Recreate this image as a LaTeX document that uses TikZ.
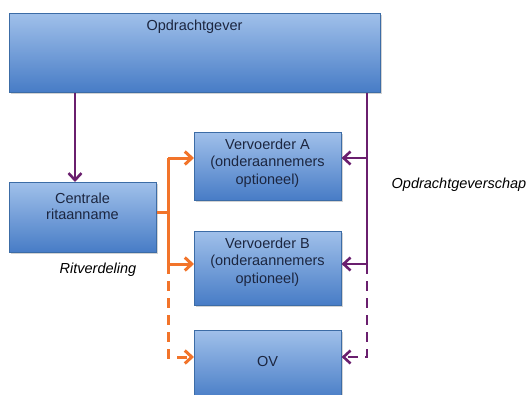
\documentclass[tikz,border=0pt]{standalone}
\usepackage{fontspec}
\setmainfont{Liberation Sans}
\usetikzlibrary{arrows.meta,shadows}
\definecolor{purp}{HTML}{6A1F6E}
\definecolor{orng}{HTML}{F2742A}
\definecolor{boxtop}{HTML}{A0C0EA}
\definecolor{boxbot}{HTML}{477CC6}
\definecolor{boxline}{HTML}{3C6CA6}
\definecolor{txt}{HTML}{1C2640}
\tikzset{
  bluebox/.style={draw=boxline, line width=0.6pt, top color=boxtop, bottom color=boxbot,
    drop shadow={opacity=0.35, shadow xshift=1.5pt, shadow yshift=-1.5pt},
    anchor=north west, inner sep=0pt, text=txt, align=center,
    font=\fontsize{14.5}{17.5}\selectfont},
  plink/.style={draw=purp, line width=2.6pt},
  olink/.style={draw=orng, line width=3pt},
  tip/.style={-{Straight Barb[length=7pt,width=13pt]}},
  dashline/.style={dash pattern=on 10pt off 7pt},
  lab/.style={font=\fontsize{14.5}{17.5}\selectfont\itshape}
}
\begin{document}
\begin{tikzpicture}[x=1pt,y=-1pt]
\useasboundingbox (0,0) rectangle (528,394);
% boxes
\node[bluebox, minimum width=371, minimum height=79] (og) at (9,13) {};
\node[text=txt, font=\fontsize{14.5}{17.5}\selectfont] (ogtext) at (194.5,27) {Opdrachtgever};
\node[bluebox, minimum width=147, minimum height=70] (cr) at (9,182) {};
\node[text=txt, align=center, font=\fontsize{14.5}{16}\selectfont] (crtext) at (82.5,206) {Centrale\\ritaanname};
\node[bluebox, minimum width=147, minimum height=68] (va) at (194,132) {};
\node[text=txt, align=center, font=\fontsize{14.5}{17.5}\selectfont] (vatext) at (267.5,163) {Vervoerder A\\(onderaannemers\\optioneel)};
\node[bluebox, minimum width=147, minimum height=74] (vb) at (194,231) {};
\node[text=txt, align=center, font=\fontsize{14.5}{17.5}\selectfont] (vbtext) at (267.5,262) {Vervoerder B\\(onderaannemers\\optioneel)};
\node[bluebox, minimum width=147, minimum height=70] (ov) at (194,330) {};
\node[text=txt, font=\fontsize{14.5}{17.5}\selectfont] (ovtext) at (267.5,362) {OV};
% labels
\node[lab] (l1) at (459,185) {Opdrachtgeverschap};
\node[lab] (l2) at (98,270) {Ritverdeling};
% coordinates
\coordinate (pl) at (75,0);
\coordinate (pb) at (367,0);
\coordinate (ob) at (168,0);
\coordinate (ya) at (0,158);
\coordinate (yb) at (0,264);
\coordinate (yo) at (0,357);
\coordinate (yc) at (0,212);
% purple
\draw[plink, tip] (og.south -| pl) -- (cr.north -| pl);
\draw[plink] (og.south -| pb) -- (pb |- yb);
\draw[plink, tip] (pb |- ya) -- (va.east |- ya);
\draw[plink, tip] (pb |- yb) -- (vb.east |- yb);
\draw[plink, dashline, tip] (pb |- yb) -- (pb |- yo) -- (ov.east |- yo);
% orange
\draw[olink] (cr.east |- yc) -- (ob |- yc);
\draw[olink] (ob |- ya) -- (ob |- yb);
\draw[olink, tip] (ob |- ya) -- (va.west |- ya);
\draw[olink, tip] (ob |- yb) -- (vb.west |- yb);
\draw[olink, dashline, tip] (ob |- yb) -- (ob |- yo) -- (ov.west |- yo);
\end{tikzpicture}
\end{document}
